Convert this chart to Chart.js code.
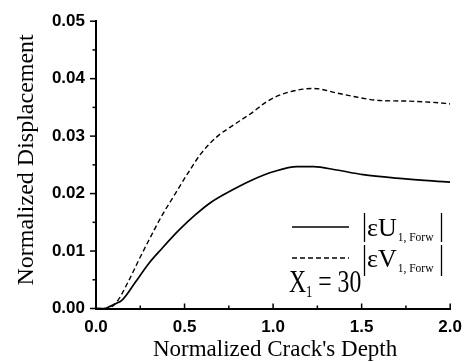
<!DOCTYPE html>
<html>
<head>
<meta charset="utf-8">
<script src="https://cdn.jsdelivr.net/npm/chart.js@4.4.1/dist/chart.umd.min.js"></script>
<style>
  html, body { margin: 0; padding: 0; background: #fff; }
  #wrap { width: 471px; height: 362px; position: relative; }
</style>
</head>
<body>
<div id="wrap"><canvas id="c" width="471" height="362"></canvas></div>
<script>
// ---- data ----
const uX = [0, 0.05, 0.074, 0.1, 0.149, 0.223, 0.297, 0.371, 0.464, 0.557, 0.65, 0.78, 0.891, 1.0, 1.136, 1.229, 1.359, 1.508, 1.694, 2.0];
const uY = [0, 0, 0.0003, 0.0007, 0.0015, 0.0046, 0.0078, 0.0104, 0.0135, 0.0162, 0.0185, 0.0208, 0.0225, 0.0238, 0.0247, 0.0247, 0.0241, 0.0233, 0.0227, 0.0220];
const vX = [0, 0.05, 0.111, 0.186, 0.241, 0.297, 0.371, 0.446, 0.52, 0.594, 0.687, 0.78, 0.891, 0.95, 1.025, 1.136, 1.229, 1.359, 1.471, 1.6, 1.749, 1.972, 2.0];
const vY = [0, 0, 0.0009, 0.0049, 0.0084, 0.0118, 0.0161, 0.0199, 0.0236, 0.0270, 0.0300, 0.0320, 0.0343, 0.0357, 0.0370, 0.0380, 0.0383, 0.0375, 0.0368, 0.0362, 0.0361, 0.0357, 0.0356];
const xTicks = [0, 0.5, 1.0, 1.5, 2.0];
const yTicks = [0, 0.01, 0.02, 0.03, 0.04, 0.05];
const xTitle = "Normalized Crack's Depth";
const yTitle = "Normalized Displacement";
const seriesNames = ["|εU1, Forw|", "|εV1, Forw|"];

const toPts = (xs, ys) => xs.map((x, i) => ({ x: x, y: ys[i] }));

const SERIF = '"Liberation Serif", "Times New Roman", serif';
const SANS = '"Liberation Sans", Arial, sans-serif';

function mids(arr) {
  const out = [];
  for (let i = 0; i < arr.length - 1; i++) out.push((arr[i] + arr[i + 1]) / 2);
  return out;
}

const decorPlugin = {
  id: 'decor',
  afterDraw(chart) {
    const ctx = chart.ctx;
    const a = chart.chartArea;
    const xs = chart.scales.x, ys = chart.scales.y;
    ctx.save();
    ctx.strokeStyle = '#000';
    ctx.fillStyle = '#000';
    ctx.lineWidth = 1.5;
    ctx.lineCap = 'butt';
    const line = (x1, y1, x2, y2) => { ctx.beginPath(); ctx.moveTo(x1, y1); ctx.lineTo(x2, y2); ctx.stroke(); };
    // y ticks (outward)
    yTicks.forEach(v => { const p = ys.getPixelForValue(v); line(a.left - 6, p, a.left, p); });
    mids(yTicks).forEach(v => { const p = ys.getPixelForValue(v); line(a.left - 3.5, p, a.left, p); });
    // x ticks (inward)
    xTicks.forEach(v => { const p = xs.getPixelForValue(v); line(p, a.bottom, p, a.bottom - 5); });
    mids(xTicks).forEach(v => { const p = xs.getPixelForValue(v); line(p, a.bottom, p, a.bottom - 3); });

    // axis titles
    ctx.font = '23px ' + SERIF;
    ctx.textAlign = 'center';
    ctx.textBaseline = 'alphabetic';
    ctx.fillText(xTitle, (a.left + a.right) / 2 + 2, 356);
    ctx.save();
    ctx.translate(33, (a.top + a.bottom) / 2 - 5);
    ctx.rotate(-Math.PI / 2);
    ctx.font = '24px ' + SERIF;
    ctx.fillText(yTitle, 0, 0);
    ctx.restore();

    // legend
    const ds = chart.data.datasets;
    ctx.textAlign = 'left';
    const entries = [
      { d: ds[0], ly: 227, main: 'εU', base: 236, sub: 241, top: 213, bot: 242 },
      { d: ds[1], ly: 258, main: 'εV', base: 267, sub: 272, top: 245, bot: 276 }
    ];
    entries.forEach(e => {
      ctx.save();
      ctx.strokeStyle = e.d.borderColor;
      ctx.lineWidth = e.d.borderWidth;
      ctx.setLineDash(e.d.borderDash || []);
      line(292, e.ly, 349, e.ly);
      ctx.restore();
      ctx.lineWidth = 1.3;
      line(364.5, e.top, 364.5, e.bot);
      line(441.5, e.top, 441.5, e.bot);
      ctx.font = '26px ' + SERIF;
      ctx.fillText(e.main, 367, e.base);
      const w = ctx.measureText(e.main).width;
      ctx.font = '11.5px ' + SERIF;
      ctx.fillText('1, Forw', 367 + w + 1, e.sub);
    });

    // X1 = 30 annotation
    ctx.save();
    ctx.translate(289, 292);
    ctx.scale(0.74, 1);
    ctx.font = '32px ' + SERIF;
    ctx.fillText('X', 0, 0);
    let cx = ctx.measureText('X').width;
    ctx.font = '17px ' + SERIF;
    ctx.fillText('1', cx, 5);
    cx += ctx.measureText('1').width;
    ctx.font = '32px ' + SERIF;
    ctx.fillText(' = 30', cx, 0);
    ctx.restore();

    ctx.restore();
  }
};

new Chart(document.getElementById('c'), {
  type: 'line',
  data: {
    datasets: [
      { label: seriesNames[0], data: toPts(uX, uY), borderColor: '#000', borderWidth: 1.7, pointRadius: 0, cubicInterpolationMode: 'monotone', fill: false },
      { label: seriesNames[1], data: toPts(vX, vY), borderColor: '#000', borderWidth: 1.4, borderDash: [5, 3], pointRadius: 0, cubicInterpolationMode: 'monotone', fill: false }
    ]
  },
  options: {
    responsive: false,
    animation: false,
    devicePixelRatio: 1,
    layout: { padding: { top: 19.5, right: 16, left: 0, bottom: 0 } },
    plugins: { legend: { display: false }, tooltip: { enabled: false } },
    scales: {
      x: {
        type: 'linear', min: 0, max: 2,
        afterFit: s => { s.height = 53.5; },
        afterBuildTicks: s => { s.ticks = xTicks.map(v => ({ value: v })); },
        grid: { display: false, drawTicks: false },
        border: { display: true, color: '#000', width: 2 },
        ticks: { color: '#000', padding: 9, maxRotation: 0, font: { family: SANS, size: 17, weight: 'bold' }, callback: v => v.toFixed(1) }
      },
      y: {
        type: 'linear', min: 0, max: 0.05,
        afterFit: s => { s.width = 96; },
        afterBuildTicks: s => { s.ticks = yTicks.map(v => ({ value: v })); },
        grid: { display: false, drawTicks: false },
        border: { display: true, color: '#000', width: 2 },
        ticks: { color: '#000', padding: 11, font: { family: SANS, size: 17, weight: 'bold' }, callback: v => v.toFixed(2) }
      }
    }
  },
  plugins: [decorPlugin]
});
</script>
</body>
</html>
